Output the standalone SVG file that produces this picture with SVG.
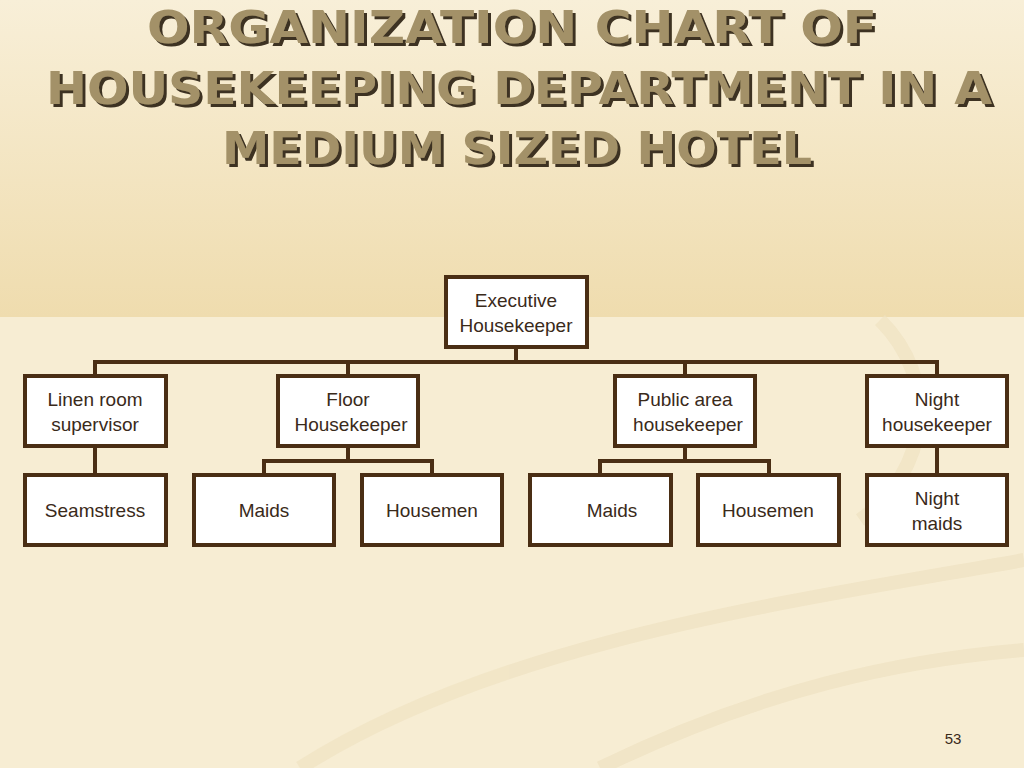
<svg xmlns="http://www.w3.org/2000/svg" width="1024" height="768" viewBox="0 0 1024 768">
<defs>
<linearGradient id="top" x1="0" y1="0" x2="0" y2="1">
<stop offset="0" stop-color="#f8efd8"/><stop offset="1" stop-color="#efdcae"/>
</linearGradient>
<filter id="sh" x="-5%" y="-20%" width="110%" height="140%">
<feDropShadow dx="3" dy="3" stdDeviation="0" flood-color="#3d3320" flood-opacity="1"/>
</filter>
<style>
.box{fill:#fff;stroke:#4a2e14;stroke-width:4}
.t{font-family:"Liberation Sans",Arial,sans-serif;font-size:19px;fill:#3a2a1a;text-anchor:middle}
.c{fill:none;stroke:#4a2e14;stroke-width:4}
.h{font-family:"DejaVu Sans","Liberation Sans",sans-serif;font-weight:bold;font-size:45px;text-anchor:middle;fill:#a39168}
</style>
</defs>
<rect width="1024" height="768" fill="#f7edd3"/>
<rect width="1024" height="317" fill="url(#top)"/>
<g fill="none" stroke="#efe2c2" stroke-width="14" opacity="0.7">
<path d="M300 768 C500 640 800 600 1024 560"/>
<path d="M600 768 C760 690 900 660 1024 650"/>
<path d="M880 320 C940 380 930 470 860 520"/>
</g>
<g id="title" filter="url(#sh)">
<text class="h" x="512" y="43" textLength="730" lengthAdjust="spacingAndGlyphs">ORGANIZATION CHART OF</text>
<text class="h" x="519" y="104" textLength="946" lengthAdjust="spacingAndGlyphs">HOUSEKEEPING DEPARTMENT IN A</text>
<text class="h" x="517" y="164" textLength="590" lengthAdjust="spacingAndGlyphs">MEDIUM SIZED HOTEL</text>
</g>
<g id="connectors">
<path class="c" d="M516 347V362M95 376V362H937V376M348 362V376M685 362V376"/>
<path class="c" d="M95 446V475"/>
<path class="c" d="M348 446V461M264 475V461H432V475"/>
<path class="c" d="M685 446V461M600 475V461H769V475"/>
<path class="c" d="M937 446V475"/>
</g>
<g id="exec"><rect class="box" x="446" y="277" width="141" height="70"/><text class="t" x="516" y="307">Executive</text><text class="t" x="516" y="332">Housekeeper</text></g>
<g id="linen"><rect class="box" x="25" y="376" width="141" height="70"/><text class="t" x="95" y="406">Linen room</text><text class="t" x="95" y="431">supervisor</text></g>
<g id="floor"><rect class="box" x="278" y="376" width="140" height="70"/><text class="t" x="348" y="406">Floor</text><text class="t" x="351" y="431">Housekeeper</text></g>
<g id="public"><rect class="box" x="615" y="376" width="140" height="70"/><text class="t" x="685" y="406">Public area</text><text class="t" x="688" y="431">housekeeper</text></g>
<g id="night"><rect class="box" x="867" y="376" width="140" height="70"/><text class="t" x="937" y="406">Night</text><text class="t" x="937" y="431">housekeeper</text></g>
<g id="seamstress"><rect class="box" x="25" y="475" width="141" height="70"/><text class="t" x="95" y="517">Seamstress</text></g>
<g id="maids1"><rect class="box" x="194" y="475" width="140" height="70"/><text class="t" x="264" y="517">Maids</text></g>
<g id="housemen1"><rect class="box" x="362" y="475" width="140" height="70"/><text class="t" x="432" y="517">Housemen</text></g>
<g id="maids2"><rect class="box" x="530" y="475" width="141" height="70"/><text class="t" x="612" y="517">Maids</text></g>
<g id="housemen2"><rect class="box" x="698" y="475" width="141" height="70"/><text class="t" x="768" y="517">Housemen</text></g>
<g id="nightmaids"><rect class="box" x="867" y="475" width="140" height="70"/><text class="t" x="937" y="505">Night</text><text class="t" x="937" y="530">maids</text></g>
<text x="953" y="744" style="font-family:'Liberation Sans',Arial,sans-serif;font-size:15px;fill:#3a2a1a;text-anchor:middle">53</text>
</svg>
